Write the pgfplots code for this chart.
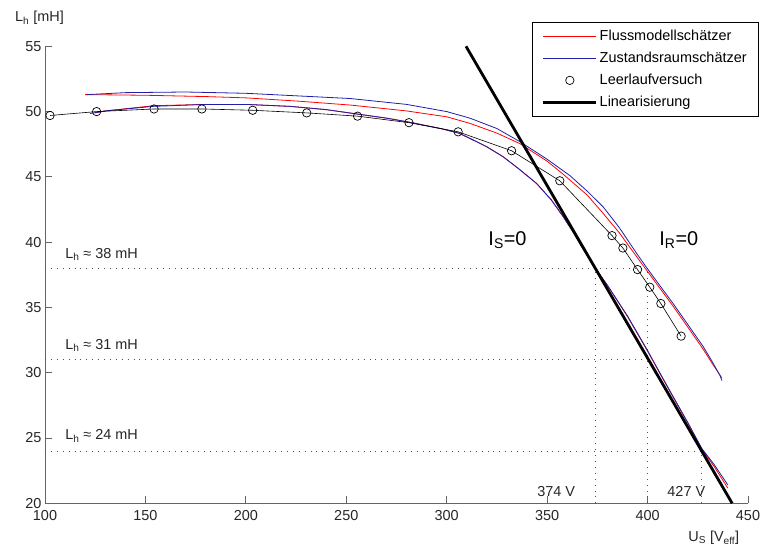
\documentclass[border=0pt]{standalone}
\usepackage{pgfplots}
\pgfplotsset{compat=1.18}
\usepackage{pgfplotstable}
\usepackage{fontspec}
\setmainfont{Liberation Sans}
\definecolor{fmred}{RGB}{255,0,0}
\definecolor{zrblue}{RGB}{30,30,170}
\definecolor{axgray}{RGB}{100,100,100}
\definecolor{dotgray}{RGB}{80,80,80}
\newcommand{\fs}{\fontsize{14.5}{17}\selectfont}

\pgfplotstableread{
x y
120 51.3
150 51.25
180 51.15
200 51.05
226 50.8
252 50.5
280 50.05
300 49.6
311.5 49.1
325 48.35
336.4 47.55
350 46.2
358 45.2
370 43.6
377.9 42.2
386 40.7
394.5 38.9
400 37.75
412.7 35.1
420 33.5
427.7 31.8
432 30.75
437 29.6
}\redupper

\pgfplotstableread{
x y
121 51.3
140 51.45
170 51.5
200 51.4
226 51.2
252 51.0
280 50.55
300 50.0
311.5 49.5
325 48.7
336.4 47.7
350 46.35
361.3 45.1
370 43.9
377.9 42.7
386 41.1
394.5 39.15
400 37.95
412.7 35.3
420 33.7
427.7 32.0
432 30.9
436 29.8
437 29.4
}\blueupper

\pgfplotstableread{
x y
125 49.9
130 50.05
154 50.45
180 50.55
200 50.55
222 50.4
240 50.15
256 49.8
270 49.5
281 49.2
297 48.7
306 48.35
311.5 47.95
320 47.3
328 46.55
336 45.6
344.7 44.5
352 43.25
358 41.95
363 40.75
368 39.45
374 38.0
380 36.7
390 34.3
400 31.65
407 29.7
413 28.05
420 26.15
427 24.15
433 22.85
440 21.15
}\redlower

\pgfplotstableread{
x y
122.4 49.85
130 50.05
154 50.4
180 50.55
200 50.55
222 50.4
240 50.15
256 49.8
270 49.5
281 49.2
297 48.7
306 48.35
311.5 47.95
320 47.3
328 46.55
336 45.6
344.7 44.5
352 43.25
358 41.95
363 40.75
368 39.45
374 38.0
380 36.7
390 34.35
400 31.7
407 29.75
413 28.1
420 26.2
427 24.2
433 23.0
440 21.4
}\bluelower

\pgfplotstableread{
x y
102.5 49.7
125.7 50.0
154.3 50.2
178.1 50.2
203.4 50.1
230.3 49.9
255.6 49.65
281.2 49.15
305.7 48.45
332.3 47.0
356.3 44.7
382.3 40.5
387.7 39.55
395 37.9
401.1 36.55
406.6 35.3
416.7 32.8
}\leerlauf

\begin{document}
\begin{tikzpicture}
\useasboundingbox (-45bp,-50.7bp) rectangle (716bp,503.3bp);
\begin{axis}[
  scale only axis, width=703bp, height=457bp,
  xmin=100, xmax=450, ymin=20, ymax=55,
  axis lines*=left,
  axis line style={axgray, line width=1bp},
  xtick={100,150,...,450}, ytick={20,25,...,55},
  tick align=inside, major tick length=7bp,
  tick style={axgray, line width=1bp},
  /pgf/number format/assume math mode=true,
  ticklabel style={font=\fs, text=black!85},
  xticklabel style={yshift=-3.5bp},
  clip=false,
  legend style={at={(rel axis cs:1.0157,1.053)}, anchor=north east,
    draw=black, line width=0.8bp, font=\fs, row sep=6bp,
    inner xsep=10bp, inner ysep=6bp},
  legend cell align=left,
  legend image code/.code={\draw[#1] (0bp,0bp) -- (53bp,0bp);},
]
% dotted helper lines
\addplot[dotgray, line width=0.9bp, dash pattern=on 0.9bp off 5bp, forget plot] coordinates {(100,38) (400,38)};
\addplot[dotgray, line width=0.9bp, dash pattern=on 0.9bp off 5bp, forget plot] coordinates {(100,31) (400,31)};
\addplot[dotgray, line width=0.9bp, dash pattern=on 0.9bp off 5bp, forget plot] coordinates {(100,24) (427,24)};
\addplot[dotgray, line width=0.9bp, dash pattern=on 0.9bp off 5bp, forget plot] coordinates {(374,20) (374,38)};
\addplot[dotgray, line width=0.9bp, dash pattern=on 0.9bp off 5bp, forget plot] coordinates {(400,20) (400,38)};
\addplot[dotgray, line width=0.9bp, dash pattern=on 0.9bp off 5bp, forget plot] coordinates {(427,20) (427,24)};

\addplot[fmred, line width=0.8bp] table {\redupper};
\addlegendentry{Flussmodellschätzer}
\addplot[fmred, line width=0.8bp, forget plot] table {\redlower};
\addplot[zrblue, line width=0.8bp] table {\blueupper};
\addlegendentry{Zustandsraumschätzer}
\addplot[zrblue, line width=0.8bp, forget plot] table {\bluelower};

\addplot[black, line width=0.6bp, mark=o, mark size=4.2bp,
  mark options={line width=0.7bp, black},
  legend image code/.code={\draw[black, line width=0.7bp] (26.5bp,0bp) circle (4.2bp);}]
  table {\leerlauf};
\addlegendentry{Leerlaufversuch}

\addplot[black, line width=2.8bp] coordinates {(309.6,55) (442.1,20)};
\addlegendentry{Linearisierung}

% annotations
\node[anchor=base west, inner sep=0pt, font=\fs, text=black!85] at (axis cs:110,38.78) {L\textsubscript{h} ≈ 38 mH};
\node[anchor=base west, inner sep=0pt, font=\fs, text=black!85] at (axis cs:110,31.79) {L\textsubscript{h} ≈ 31 mH};
\node[anchor=base west, inner sep=0pt, font=\fs, text=black!85] at (axis cs:110,24.85) {L\textsubscript{h} ≈ 24 mH};
\node[anchor=base west, inner sep=0pt, font=\fontsize{20}{24}\selectfont] at (axis cs:320.7,39.78) {I\textsubscript{S}=0};
\node[anchor=base west, inner sep=0pt, font=\fontsize{20}{24}\selectfont] at (axis cs:405.8,39.78) {I\textsubscript{R}=0};
\node[anchor=base west, inner sep=0pt, font=\fs, text=black!85] at (axis cs:345,20.5) {374 V};
\node[anchor=base west, inner sep=0pt, font=\fs, text=black!85] at (axis cs:409.8,20.5) {427 V};
\node[anchor=base west, inner sep=0pt, font=\fs, text=black!85] at (axis cs:85.07,56.88) {L\textsubscript{h} [mH]};
\node[anchor=base west, inner sep=0pt, font=\fs, text=black!85] at (axis cs:420.2,17.06) {U\textsubscript{S} [V\textsubscript{eff}]};
\end{axis}
\end{tikzpicture}
\end{document}
